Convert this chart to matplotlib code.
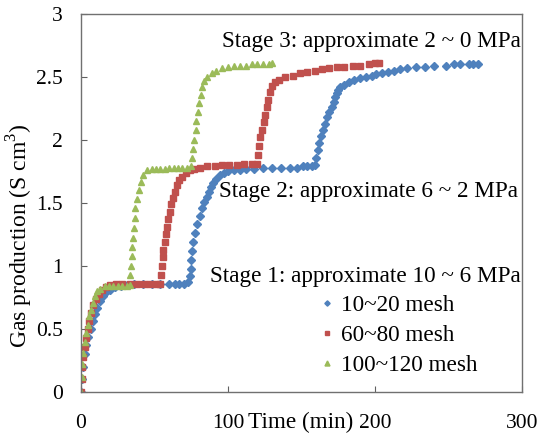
import matplotlib
matplotlib.use("Agg")
import matplotlib.pyplot as plt

plt.rcParams['font.family'] = ['Liberation Serif', 'DejaVu Serif']
plt.rcParams['mathtext.fontset'] = 'custom'
plt.rcParams['mathtext.rm'] = 'Liberation Serif'

# 10~20 mesh
t_10_20 = [0, 0.8, 1.5, 2.5, 3.5, 5, 6.5, 8, 9.5, 11, 13, 15, 17, 20, 23, 27, 31, 36, 42, 48,
           54, 60, 64, 67, 70, 73, 74, 74.5, 75, 75.5, 76.5, 77.5, 79, 81, 82.5, 84, 85.5, 87,
           88.5, 90, 92, 94.5, 97, 100, 104, 108, 112, 118, 124, 130, 136, 142, 147, 151, 154,
           157, 159, 160, 161, 162, 163, 164.5, 166, 167.5, 169, 170.5, 172, 173, 174, 175,
           176.5, 179, 182, 186, 190, 194, 198, 201, 205, 209, 213, 217, 222, 228, 234, 240,
           248, 254, 258, 264, 267, 270]
g_10_20 = [0, 0.1, 0.2, 0.3, 0.37, 0.44, 0.5, 0.56, 0.62, 0.67, 0.72, 0.76, 0.79, 0.81, 0.83,
           0.84, 0.85, 0.86, 0.86, 0.86, 0.86, 0.86, 0.86, 0.86, 0.86, 0.87, 0.92, 0.98, 1.05,
           1.12, 1.19, 1.26, 1.33, 1.40, 1.46, 1.51, 1.55, 1.59, 1.63, 1.66, 1.69, 1.72, 1.74,
           1.75, 1.76, 1.76, 1.77, 1.77, 1.78, 1.78, 1.78, 1.78, 1.78, 1.79, 1.79, 1.79, 1.80,
           1.86, 1.92, 1.98, 2.03, 2.08, 2.13, 2.18, 2.22, 2.26, 2.30, 2.34, 2.37, 2.40, 2.42,
           2.44, 2.46, 2.48, 2.49, 2.50, 2.51, 2.52, 2.53, 2.54, 2.55, 2.56, 2.57, 2.58, 2.58,
           2.59, 2.59, 2.60, 2.60, 2.60, 2.60, 2.60]

# 60~80 mesh
t_60_80 = [0, 0.5, 1, 1.5, 2.5, 3.5, 4.5, 5.5, 7, 8.5, 10, 12, 14, 17, 20, 24, 28, 33, 38, 43,
           47, 51, 54, 54.5, 55, 55.5, 56, 57, 57.5, 58.5, 59.5, 60.5, 61.5, 62.5, 64, 65.5, 67,
           69, 71.5, 74, 77, 81, 86, 91, 96, 101, 106, 111, 116, 120, 120.5, 121, 122, 123,
           124.5, 125.5, 126.5, 127.5, 128.5, 130, 132, 135, 139, 144, 149, 154, 159, 164, 169,
           174, 179, 185, 190, 196, 200, 203]
g_60_80 = [0, 0.1, 0.2, 0.28, 0.36, 0.43, 0.5, 0.56, 0.63, 0.69, 0.74, 0.78, 0.81, 0.83, 0.85,
           0.86, 0.86, 0.86, 0.86, 0.86, 0.86, 0.86, 0.86, 0.93, 1.0, 1.07, 1.13, 1.19, 1.25,
           1.31, 1.37, 1.43, 1.49, 1.54, 1.59, 1.64, 1.68, 1.71, 1.74, 1.76, 1.77, 1.78, 1.79,
           1.79, 1.80, 1.80, 1.80, 1.81, 1.81, 1.81, 1.88, 1.95, 2.02, 2.08, 2.14, 2.20, 2.26,
           2.32, 2.38, 2.43, 2.46, 2.48, 2.50, 2.51, 2.53, 2.54, 2.55, 2.56, 2.57, 2.58, 2.58,
           2.59, 2.59, 2.60, 2.61, 2.61]

# 100~120 mesh
t_100_120 = [0, 0.5, 1, 1.5, 2.5, 3.5, 4.5, 5.5, 6.5, 8, 9.5, 11, 13, 16, 19, 22, 25, 28, 31,
             33, 33.5, 34, 34.5, 35, 35.5, 36, 36.5, 37, 38, 39.5, 41, 42.5, 45, 48, 51, 54, 57,
             60, 63, 66, 69, 72, 75, 75.5, 76, 77, 78, 78.5, 79.5, 80.5, 81.5, 82.5, 84, 86, 89,
             92, 96, 100, 104, 108, 112, 116, 120, 124, 128, 130]
g_100_120 = [0, 0.12, 0.22, 0.31, 0.4, 0.47, 0.53, 0.6, 0.65, 0.71, 0.76, 0.8, 0.82, 0.84,
             0.84, 0.84, 0.84, 0.84, 0.84, 0.85, 0.93, 1.0, 1.08, 1.15, 1.22, 1.30, 1.38, 1.46,
             1.53, 1.60, 1.67, 1.72, 1.76, 1.77, 1.77, 1.77, 1.77, 1.78, 1.78, 1.78, 1.78, 1.78,
             1.79, 1.86, 1.93, 2.0, 2.08, 2.15, 2.22, 2.29, 2.36, 2.42, 2.47, 2.50, 2.53, 2.55,
             2.57, 2.58, 2.59, 2.59, 2.59, 2.60, 2.60, 2.60, 2.60, 2.61]

series_labels = ['10~20 mesh', '60~80 mesh', '100~120 mesh']
stage_texts = ['Stage 3: approximate 2 ~ 0 MPa',
               'Stage 2: approximate 6 ~ 2 MPa',
               'Stage 1: approximate 10 ~ 6 MPa']
x_ticks = [0, 100, 200, 300]
y_ticks = [0, 0.5, 1, 1.5, 2, 2.5, 3]
y_tick_labels = ['0', '0.5', '1', '1.5', '2', '2.5', '3']

fig = plt.figure(figsize=(5.39, 4.40), dpi=100)
ax = fig.add_axes([81 / 539, 1 - 392 / 440, 441 / 539, 378 / 440])

FS_TICK = 15.5
FS_TXT = 16.7
ax.plot(t_10_20, g_10_20, linestyle='none', marker='D', ms=3.6, color='#4F81BD',
        mec='#4F81BD', label=series_labels[0])
ax.plot(t_60_80, g_60_80, linestyle='none', marker='s', ms=4.4, color='#C0504D',
        mec='#C0504D', label=series_labels[1])
ax.plot(t_100_120, g_100_120, linestyle='none', marker='^', ms=4.8, color='#9BBB59',
        mec='#9BBB59', label=series_labels[2])

ax.set_xlim(0, 300)
ax.set_ylim(0, 3)
ax.set_xticks(x_ticks)
ax.set_yticks(y_ticks)
ax.set_yticklabels(y_tick_labels)
ax.tick_params(direction='in', length=4, width=0.8, color='#606060', labelsize=FS_TICK)
ax.tick_params(axis='y', pad=13)
ax.tick_params(axis='x', pad=16)
for s in ax.spines.values():
    s.set_color('#707070')
    s.set_linewidth(1.0)

ax.set_xlabel('Time (min)', fontsize=FS_TXT)
ax.xaxis.set_label_coords(0.497, -0.052)
ax.set_ylabel('Gas production (S cm$^3$)', fontsize=17)
ax.yaxis.set_label_coords(-0.104, 0.413)

ax.text(0.998, 0.926, stage_texts[0], transform=ax.transAxes, ha='right', va='center',
        fontsize=FS_TXT)
ax.text(0.991, 0.530, stage_texts[1], transform=ax.transAxes, ha='right', va='center',
        fontsize=FS_TXT)
ax.text(0.998, 0.305, stage_texts[2], transform=ax.transAxes, ha='right', va='center',
        fontsize=FS_TXT)

ax.legend(loc='center left', bbox_to_anchor=(0.515, 0.150), frameon=False, fontsize=FS_TXT,
          handlelength=0.6, handletextpad=0.3, labelspacing=0.38, borderpad=0,
          markerscale=0.75)

fig.savefig('out.png', dpi=100)
